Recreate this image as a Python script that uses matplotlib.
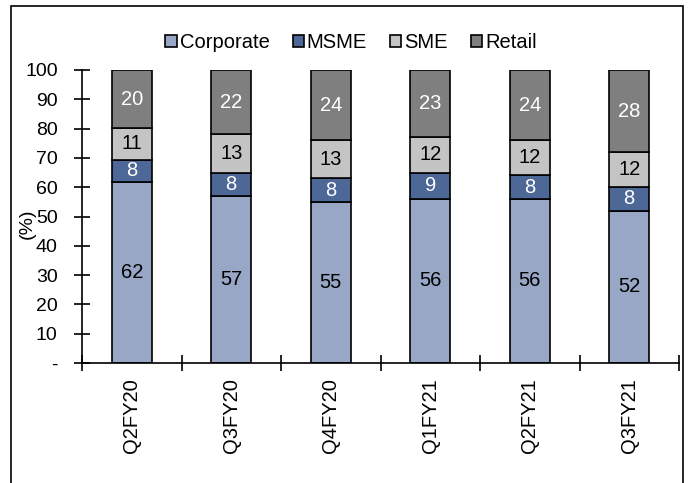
import numpy as np
import matplotlib
matplotlib.use('Agg')
from matplotlib import pyplot as plt
from matplotlib.patches import Rectangle

plt.rcParams['font.family'] = ['Liberation Sans', 'DejaVu Sans']

quarters = ['Q2FY20', 'Q3FY20', 'Q4FY20', 'Q1FY21', 'Q2FY21', 'Q3FY21']
corporate = [61.8, 57, 55, 56, 56, 52]
msme = [7.5, 8, 8, 9, 8, 8]
sme = [10.9, 13, 13, 12, 12, 12]
retail = [19.8, 22, 24, 23, 24, 28]

series = [('Corporate', corporate, '#97A7C5', 'black'),
          ('MSME', msme, '#4D6796', 'white'),
          ('SME', sme, '#C4C4C4', 'black'),
          ('Retail', retail, '#7F7F7F', 'white')]

fig = plt.figure(figsize=(6.91, 4.83), dpi=100)
ax = fig.add_axes([82/691, 1-363/483, (679-82)/691, (363-70)/483])

x = np.arange(len(quarters))
bottom = np.zeros(len(quarters))
handles = []
for name, vals, col, tcol in series:
    vals = np.array(vals, dtype=float)
    bars = ax.bar(x, vals, 0.4, bottom=bottom, color=col, edgecolor='black',
                  linewidth=1.2, label=name)
    handles.append(bars)
    for xi, b, v in zip(x, bottom, vals):
        ax.text(xi, b + v/2, '%.0f' % v, ha='center', va='center',
                fontsize=14.5, color=tcol)
    bottom += vals

ax.set_xlim(-0.5, len(quarters) - 0.5)
ax.set_ylim(0, 100)
ax.set_yticks(range(0, 101, 10))
ax.set_yticklabels(['-'] + [str(v) for v in range(10, 101, 10)], fontsize=14)
ax.set_xticks(x)
ax.set_xticklabels(quarters, rotation=90, fontsize=14.5)
ax.set_xticks(np.arange(-0.5, len(quarters), 1), minor=True)
ax.tick_params(axis='x', which='major', length=0, pad=11)
ax.tick_params(axis='x', which='minor', direction='inout', length=11, width=1.2)
ax.tick_params(axis='y', direction='inout', length=11, width=1.2, pad=12)
for s in ['top', 'right']:
    ax.spines[s].set_visible(False)
for s in ['left', 'bottom']:
    ax.spines[s].set_linewidth(1.2)

fig.text(27/691, 1-224/483, '(%)', rotation=90, ha='center', va='center', fontsize=14)

fig.legend(handles=handles, loc='center', bbox_to_anchor=(351/691, 1-43/483),
           ncol=4, frameon=False, fontsize=14.5, handlelength=0.55, handleheight=0.55,
           handletextpad=0.15, columnspacing=1.15)

fig.patches.append(Rectangle((11/691, -0.01), (683-11)/691, 1.01 - 6/483,
                             transform=fig.transFigure, fill=False,
                             edgecolor='black', linewidth=1.2))

fig.savefig('out.png', dpi=100)
